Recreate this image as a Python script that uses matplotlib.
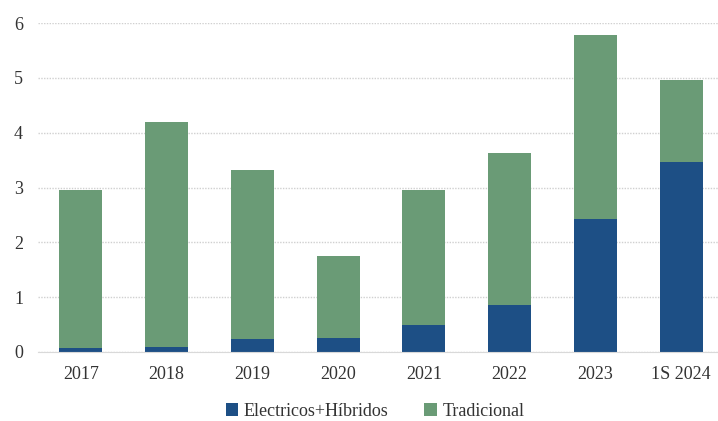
import matplotlib
matplotlib.use("Agg")
import matplotlib.pyplot as plt
import numpy as np

categories = ["2017", "2018", "2019", "2020", "2021", "2022", "2023", "1S 2024"]
electricos = [0.07, 0.10, 0.24, 0.25, 0.49, 0.86, 2.43, 3.47]
totales = [2.96, 4.20, 3.32, 1.75, 2.96, 3.63, 5.78, 4.96]
tradicional = [t - e for t, e in zip(totales, electricos)]

plt.rcParams['font.family'] = ['Liberation Serif', 'DejaVu Serif']

fig = plt.figure(figsize=(7.18, 4.21), dpi=100)
ax = fig.add_axes([38/718, 69/421, (724-38)/718, (352-23)/421])

x = np.arange(len(categories))
blue = "#1d4f85"
green = "#6a9b76"
ax.bar(x, electricos, width=0.5, color=blue, label="Electricos+Híbridos", zorder=3)
ax.bar(x, tradicional, width=0.5, bottom=electricos, color=green, label="Tradicional", zorder=3)

ax.set_xlim(-0.5, 7.5)
ax.set_ylim(0, 6)
ax.set_yticks(range(0, 7))
ax.set_xticks(x)
ax.set_xticklabels(categories)
ax.tick_params(axis='both', length=0, labelsize=13, colors="#333333")
ax.tick_params(axis='x', pad=10)
ax.tick_params(axis='y', pad=14)
for lbl in ax.get_yticklabels():
    lbl.set_horizontalalignment('center')
ax.yaxis.grid(True, linestyle=(0, (1, 1)), color="#d0d0d0", linewidth=1, zorder=0)
for s in ["top", "right", "left"]:
    ax.spines[s].set_visible(False)
ax.spines["bottom"].set_color("#d9d9d9")
ax.spines["bottom"].set_zorder(4)

leg = fig.legend(loc="center", bbox_to_anchor=(375/718, 1 - 411/421), ncol=2, frameon=False,
                 fontsize=13, handlelength=0.7, handleheight=0.7, handletextpad=0.3, columnspacing=2.0)
for t in leg.get_texts():
    t.set_color("#333333")

fig.savefig("out.png", dpi=100)
